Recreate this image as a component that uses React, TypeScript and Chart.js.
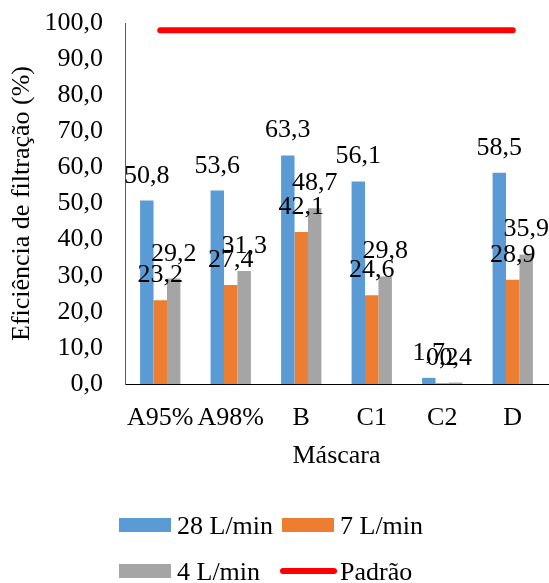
import React, { useEffect, useRef } from "react";
import { Chart, registerables } from "chart.js";

Chart.register(...registerables);

// Filtration efficiency per mask type and flow rate
const categories = ["A95%", "A98%", "B", "C1", "C2", "D"];
const flow28 = [50.8, 53.6, 63.3, 56.1, 1.7, 58.5];
const flow7 = [23.2, 27.4, 42.1, 24.6, 0.2, 28.9];
const flow4 = [29.2, 31.3, 48.7, 29.8, 0.4, 35.9];
const standard = [98, 98, 98, 98, 98, 98];

const seriesNames = ["28 L/min", "7 L/min", "4 L/min", "Padrão"];
const seriesColors = ["#5B9BD5", "#ED7D31", "#A5A5A5", "#FF0000"];
const yTicks = { min: 0, max: 100, step: 10 };

const FONT = "'Liberation Serif', 'Times New Roman', serif";
const FS = 26;
const W = 549;
const H = 583;

const fmt = (v: number) => v.toFixed(1).replace(".", ",");

// Value labels drawn above each bar
const barLabels = {
  id: "barLabels",
  afterDatasetsDraw(chart: any) {
    const ctx = chart.ctx;
    ctx.save();
    ctx.font = `${FS}px ${FONT}`;
    ctx.fillStyle = "#000";
    ctx.textAlign = "center";
    ctx.textBaseline = "alphabetic";
    chart.data.datasets.forEach((ds: any, i: number) => {
      if (ds.type === "line") return;
      const meta = chart.getDatasetMeta(i);
      meta.data.forEach((el: any, j: number) => {
        ctx.fillText(fmt(ds.data[j]), el.x, el.y - 18);
      });
    });
    ctx.restore();
  },
};

// Two-column legend under the plot
const gridLegend = {
  id: "gridLegend",
  afterDraw(chart: any) {
    const ctx = chart.ctx;
    const ds = chart.data.datasets;
    const cols = [119, 282];
    const rows = [525, 571];
    ctx.save();
    ctx.font = `${FS}px ${FONT}`;
    ctx.fillStyle = "#000";
    ctx.textBaseline = "alphabetic";
    ctx.textAlign = "left";
    ds.forEach((d: any, i: number) => {
      const x = cols[i % 2];
      const cy = rows[Math.floor(i / 2)];
      if (d.type === "line") {
        ctx.strokeStyle = d.borderColor;
        ctx.lineWidth = 6;
        ctx.lineCap = "round";
        ctx.beginPath();
        ctx.moveTo(x + 1, cy);
        ctx.lineTo(x + 52, cy);
        ctx.stroke();
      } else {
        ctx.fillStyle = d.backgroundColor;
        ctx.fillRect(x, cy - 7, 52, 14);
      }
      ctx.fillStyle = "#000";
      ctx.fillText(d.label, x + 58, cy + 9);
    });
    ctx.restore();
  },
};

export default function App() {
  const ref = useRef<HTMLCanvasElement | null>(null);

  useEffect(() => {
    if (!ref.current) return;
    const chart = new Chart(ref.current, {
      type: "bar",
      data: {
        labels: categories,
        datasets: [
          { type: "bar", label: seriesNames[0], data: flow28, backgroundColor: seriesColors[0], order: 2 },
          { type: "bar", label: seriesNames[1], data: flow7, backgroundColor: seriesColors[1], order: 2 },
          { type: "bar", label: seriesNames[2], data: flow4, backgroundColor: seriesColors[2], order: 2 },
          {
            type: "line",
            label: seriesNames[3],
            data: standard,
            borderColor: seriesColors[3],
            backgroundColor: seriesColors[3],
            borderWidth: 6,
            borderCapStyle: "round",
            pointRadius: 0,
            order: 1,
          } as any,
        ],
      },
      options: {
        responsive: false,
        animation: false,
        devicePixelRatio: 1,
        layout: { padding: { top: 23, right: 1, bottom: 0, left: 0 } },
        datasets: { bar: { categoryPercentage: 0.572, barPercentage: 1 } },
        plugins: {
          legend: { display: false },
          tooltip: { enabled: false },
        },
        scales: {
          x: {
            grid: { display: false, drawTicks: false },
            border: { display: true, color: "#000", width: 1 },
            ticks: { color: "#000", font: { family: FONT, size: FS }, padding: 19, maxRotation: 0, autoSkip: false },
            title: {
              display: true,
              text: "Máscara",
              color: "#000",
              font: { family: FONT, size: FS },
              padding: { top: 0, bottom: 111 },
            },
            afterFit(scale: any) {
              scale.height = H - 384;
            },
          },
          y: {
            min: yTicks.min,
            max: yTicks.max,
            grid: { display: false, drawTicks: false },
            border: { display: true, color: "#595959", width: 1 },
            ticks: {
              stepSize: yTicks.step,
              color: "#000",
              font: { family: FONT, size: FS },
              padding: 22,
              callback: (v: any) => fmt(Number(v)),
            },
            title: {
              display: true,
              text: "Eficiência de filtração (%)",
              color: "#000",
              font: { family: FONT, size: FS },
              padding: { top: 7, bottom: 0 },
            },
            afterFit(scale: any) {
              scale.width = 125;
              scale.paddingTop = 0;
              scale.paddingBottom = 0;
            },
          },
        },
      },
      plugins: [barLabels, gridLegend],
    });
    return () => chart.destroy();
  }, []);

  return (
    <div style={{ position: "fixed", left: 0, top: 0, width: W, height: H, background: "#fff" }}>
      <canvas ref={ref} width={W} height={H} style={{ display: "block" }} />
    </div>
  );
}
